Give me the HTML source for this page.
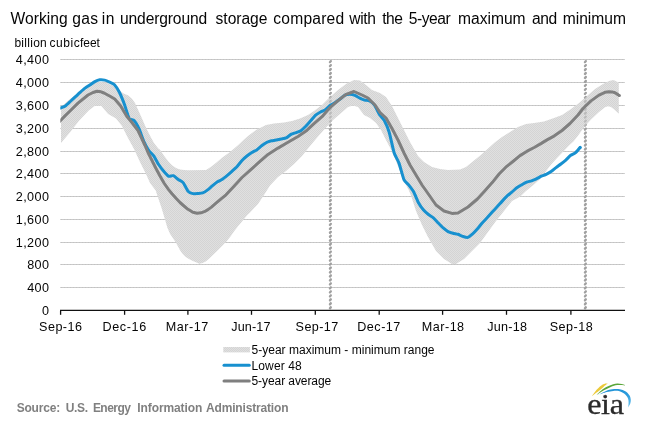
<!DOCTYPE html>
<html><head><meta charset="utf-8"><title>Working gas in underground storage</title>
<style>
html,body{margin:0;padding:0;background:#fff;}
svg{display:block;will-change:transform;font-family:"Liberation Sans",sans-serif;}
</style></head>
<body>
<svg width="651" height="422" viewBox="0 0 651 422">
<defs><pattern id="bp" width="2" height="2" patternUnits="userSpaceOnUse"><rect width="2" height="2" fill="#e0e0e0"/><rect width="1" height="1" fill="#d4d4d4" shape-rendering="crispEdges"/><rect x="1" y="1" width="1" height="1" fill="#d4d4d4" shape-rendering="crispEdges"/></pattern></defs>
<rect width="651" height="422" fill="#fff"/>
<g fill="#050505"><text x="10.60" y="24.20" font-size="15.6" letter-spacing="0.008">Working</text><text x="72.28" y="24.20" font-size="15.6" letter-spacing="0.320">gas</text><text x="101.76" y="24.20" font-size="15.6" letter-spacing="0.500">in</text><text x="120.06" y="24.20" font-size="15.6" letter-spacing="-0.136">underground</text><text x="215.59" y="24.20" font-size="15.6" letter-spacing="-0.026">storage</text><text x="273.28" y="24.20" font-size="15.6" letter-spacing="0.219">compared</text><text x="349.36" y="24.20" font-size="15.6" letter-spacing="-0.374">with</text><text x="382.14" y="24.20" font-size="15.6" letter-spacing="-0.500">the</text><text x="408.78" y="24.20" font-size="15.6" letter-spacing="-0.438">5-year</text><text x="458.06" y="24.20" font-size="15.6" letter-spacing="-0.014">maximum</text><text x="532.08" y="24.20" font-size="15.6" letter-spacing="-0.464">and</text><text x="562.66" y="24.20" font-size="15.6" letter-spacing="0.025">minimum</text></g>
<g fill="#050505"><text x="14.38" y="46.60" font-size="12" letter-spacing="0.285">billion</text><text x="49.42" y="46.60" font-size="12" letter-spacing="0.552">cubic</text><text x="80.08" y="46.60" font-size="12" letter-spacing="-0.074">feet</text></g>
<g stroke="#d2d2d2" stroke-width="1"><line x1="60.5" x2="624.8" y1="287.5" y2="287.5"/><line x1="60.5" x2="624.8" y1="264.5" y2="264.5"/><line x1="60.5" x2="624.8" y1="242.5" y2="242.5"/><line x1="60.5" x2="624.8" y1="219.5" y2="219.5"/><line x1="60.5" x2="624.8" y1="196.5" y2="196.5"/><line x1="60.5" x2="624.8" y1="173.5" y2="173.5"/><line x1="60.5" x2="624.8" y1="151.5" y2="151.5"/><line x1="60.5" x2="624.8" y1="128.5" y2="128.5"/><line x1="60.5" x2="624.8" y1="105.5" y2="105.5"/><line x1="60.5" x2="624.8" y1="82.5" y2="82.5"/><line x1="60.5" x2="624.8" y1="59.5" y2="59.5"/></g><g stroke="#c2c2c2" stroke-width="1" stroke-dasharray="2 1"><line x1="60.5" x2="624.8" y1="287.5" y2="287.5"/><line x1="60.5" x2="624.8" y1="264.5" y2="264.5"/><line x1="60.5" x2="624.8" y1="242.5" y2="242.5"/><line x1="60.5" x2="624.8" y1="219.5" y2="219.5"/><line x1="60.5" x2="624.8" y1="196.5" y2="196.5"/><line x1="60.5" x2="624.8" y1="173.5" y2="173.5"/><line x1="60.5" x2="624.8" y1="151.5" y2="151.5"/><line x1="60.5" x2="624.8" y1="128.5" y2="128.5"/><line x1="60.5" x2="624.8" y1="105.5" y2="105.5"/><line x1="60.5" x2="624.8" y1="82.5" y2="82.5"/><line x1="60.5" x2="624.8" y1="59.5" y2="59.5"/></g>
<g stroke="#a0a0a0" stroke-width="2.2" stroke-linecap="round" fill="none"><path d="M330.00 62.10l0.8 -1M330.00 66.07l0.8 -1M330.00 70.04l0.8 -1M330.00 74.01l0.8 -1M330.00 77.98l0.8 -1M330.00 81.95l0.8 -1M330.00 85.92l0.8 -1M330.00 89.89l0.8 -1M330.00 93.86l0.8 -1M330.00 97.83l0.8 -1M330.00 101.80l0.8 -1M330.00 105.77l0.8 -1M330.00 109.74l0.8 -1M330.00 113.71l0.8 -1M330.00 117.68l0.8 -1M330.00 121.65l0.8 -1M330.00 125.62l0.8 -1M330.00 129.59l0.8 -1M330.00 133.56l0.8 -1M330.00 137.53l0.8 -1M330.00 141.50l0.8 -1M330.00 145.47l0.8 -1M330.00 149.44l0.8 -1M330.00 153.41l0.8 -1M330.00 157.38l0.8 -1M330.00 161.35l0.8 -1M330.00 165.32l0.8 -1M330.00 169.29l0.8 -1M330.00 173.26l0.8 -1M330.00 177.23l0.8 -1M330.00 181.20l0.8 -1M330.00 185.17l0.8 -1M330.00 189.14l0.8 -1M330.00 193.11l0.8 -1M330.00 197.08l0.8 -1M330.00 201.05l0.8 -1M330.00 205.02l0.8 -1M330.00 208.99l0.8 -1M330.00 212.96l0.8 -1M330.00 216.93l0.8 -1M330.00 220.90l0.8 -1M330.00 224.87l0.8 -1M330.00 228.84l0.8 -1M330.00 232.81l0.8 -1M330.00 236.78l0.8 -1M330.00 240.75l0.8 -1M330.00 244.72l0.8 -1M330.00 248.69l0.8 -1M330.00 252.66l0.8 -1M330.00 256.63l0.8 -1M330.00 260.60l0.8 -1M330.00 264.57l0.8 -1M330.00 268.54l0.8 -1M330.00 272.51l0.8 -1M330.00 276.48l0.8 -1M330.00 280.45l0.8 -1M330.00 284.42l0.8 -1M330.00 288.39l0.8 -1M330.00 292.36l0.8 -1M330.00 296.33l0.8 -1M330.00 300.30l0.8 -1M330.00 304.27l0.8 -1M330.00 308.24l0.8 -1"/><path d="M585.00 62.10l0.8 -1M585.00 66.07l0.8 -1M585.00 70.04l0.8 -1M585.00 74.01l0.8 -1M585.00 77.98l0.8 -1M585.00 81.95l0.8 -1M585.00 85.92l0.8 -1M585.00 89.89l0.8 -1M585.00 93.86l0.8 -1M585.00 97.83l0.8 -1M585.00 101.80l0.8 -1M585.00 105.77l0.8 -1M585.00 109.74l0.8 -1M585.00 113.71l0.8 -1M585.00 117.68l0.8 -1M585.00 121.65l0.8 -1M585.00 125.62l0.8 -1M585.00 129.59l0.8 -1M585.00 133.56l0.8 -1M585.00 137.53l0.8 -1M585.00 141.50l0.8 -1M585.00 145.47l0.8 -1M585.00 149.44l0.8 -1M585.00 153.41l0.8 -1M585.00 157.38l0.8 -1M585.00 161.35l0.8 -1M585.00 165.32l0.8 -1M585.00 169.29l0.8 -1M585.00 173.26l0.8 -1M585.00 177.23l0.8 -1M585.00 181.20l0.8 -1M585.00 185.17l0.8 -1M585.00 189.14l0.8 -1M585.00 193.11l0.8 -1M585.00 197.08l0.8 -1M585.00 201.05l0.8 -1M585.00 205.02l0.8 -1M585.00 208.99l0.8 -1M585.00 212.96l0.8 -1M585.00 216.93l0.8 -1M585.00 220.90l0.8 -1M585.00 224.87l0.8 -1M585.00 228.84l0.8 -1M585.00 232.81l0.8 -1M585.00 236.78l0.8 -1M585.00 240.75l0.8 -1M585.00 244.72l0.8 -1M585.00 248.69l0.8 -1M585.00 252.66l0.8 -1M585.00 256.63l0.8 -1M585.00 260.60l0.8 -1M585.00 264.57l0.8 -1M585.00 268.54l0.8 -1M585.00 272.51l0.8 -1M585.00 276.48l0.8 -1M585.00 280.45l0.8 -1M585.00 284.42l0.8 -1M585.00 288.39l0.8 -1M585.00 292.36l0.8 -1M585.00 296.33l0.8 -1M585.00 300.30l0.8 -1M585.00 304.27l0.8 -1M585.00 308.24l0.8 -1"/></g>
<polygon points="61.0,107.0 70.0,99.0 78.0,93.5 88.0,86.0 95.0,82.5 101.0,82.0 107.0,83.0 114.0,86.0 120.0,91.0 124.0,93.8 128.0,95.2 132.0,98.8 135.0,103.0 138.4,110.5 142.0,118.5 145.0,125.5 148.0,131.8 150.7,137.0 154.0,143.0 158.3,148.6 160.0,149.8 164.0,155.8 168.6,161.8 172.0,165.2 176.0,167.9 180.0,169.5 184.0,170.0 188.0,170.2 206.0,169.9 210.0,167.6 214.0,164.5 217.1,161.9 222.0,157.8 230.0,152.0 238.0,145.2 243.5,140.0 248.0,136.0 256.0,130.0 266.0,125.0 274.0,123.5 284.0,122.4 292.0,121.0 300.0,118.5 308.0,115.0 314.0,111.0 322.0,105.0 330.0,97.0 338.0,90.0 346.0,84.0 354.0,80.0 360.0,80.4 366.0,85.0 372.0,90.0 380.0,93.0 386.0,97.0 392.0,106.0 398.0,118.0 404.0,130.0 410.0,142.0 418.0,156.0 424.0,162.0 432.0,167.0 440.0,169.0 448.0,170.0 460.0,169.5 466.0,167.0 473.1,161.3 480.2,155.6 487.3,149.2 494.4,142.8 498.0,140.0 502.0,137.0 510.0,132.0 518.0,127.0 526.0,124.0 534.0,123.0 544.0,121.4 554.0,118.0 562.0,115.0 571.0,109.0 579.0,103.0 587.0,96.0 595.0,89.0 603.0,84.0 609.0,81.0 613.4,80.1 618.8,82.4 618.8,113.8 614.0,109.3 611.0,107.0 607.9,106.3 605.0,107.3 599.0,112.0 591.0,119.6 588.5,122.2 583.3,128.2 577.6,136.2 573.4,141.6 569.5,145.0 563.5,151.2 556.8,158.3 550.7,165.0 545.0,172.4 539.8,179.3 532.8,185.5 525.7,191.2 520.0,196.8 512.0,201.0 504.0,211.0 496.0,221.0 488.0,232.0 480.0,243.0 472.0,251.0 464.0,259.0 456.0,264.0 452.0,264.0 444.0,259.0 436.0,251.0 428.0,237.0 422.0,225.0 416.0,211.0 411.2,196.0 408.7,190.0 402.3,178.0 398.0,166.0 392.3,152.0 386.0,140.0 381.0,130.0 376.0,123.0 370.0,118.0 364.0,115.0 358.0,107.0 353.0,105.5 348.0,107.0 340.0,114.0 333.0,120.0 326.0,127.5 318.0,136.5 310.0,146.0 302.0,156.0 294.0,164.0 286.0,171.0 278.0,177.0 270.0,185.5 264.0,195.0 258.0,204.0 250.0,212.4 247.1,215.2 244.0,218.9 241.4,222.2 238.0,226.3 234.3,230.9 231.0,235.7 227.1,240.8 223.5,244.5 220.0,248.0 216.5,251.6 212.9,255.1 209.0,258.7 205.7,261.4 202.5,263.1 199.3,263.7 196.0,262.3 192.9,260.9 189.0,259.0 185.7,256.9 182.5,253.8 180.0,250.3 178.0,246.5 175.7,242.2 172.8,238.0 170.0,233.8 167.3,227.5 165.0,219.5 161.4,207.5 158.0,197.5 155.7,190.5 150.0,183.0 146.0,174.0 140.0,162.0 134.0,149.0 128.0,138.0 122.0,126.0 116.0,118.4 108.2,114.0 101.3,106.0 95.0,105.7 88.7,110.5 78.8,121.0 70.7,131.5 61.0,142.9" fill="url(#bp)"/>
<g stroke="#a0a0a0" stroke-width="2.2" stroke-linecap="round" fill="none" opacity="0.55"><path d="M330.00 62.10l0.8 -1M330.00 66.07l0.8 -1M330.00 70.04l0.8 -1M330.00 74.01l0.8 -1M330.00 77.98l0.8 -1M330.00 81.95l0.8 -1M330.00 85.92l0.8 -1M330.00 89.89l0.8 -1M330.00 93.86l0.8 -1M330.00 97.83l0.8 -1M330.00 101.80l0.8 -1M330.00 105.77l0.8 -1M330.00 109.74l0.8 -1M330.00 113.71l0.8 -1M330.00 117.68l0.8 -1M330.00 121.65l0.8 -1M330.00 125.62l0.8 -1M330.00 129.59l0.8 -1M330.00 133.56l0.8 -1M330.00 137.53l0.8 -1M330.00 141.50l0.8 -1M330.00 145.47l0.8 -1M330.00 149.44l0.8 -1M330.00 153.41l0.8 -1M330.00 157.38l0.8 -1M330.00 161.35l0.8 -1M330.00 165.32l0.8 -1M330.00 169.29l0.8 -1M330.00 173.26l0.8 -1M330.00 177.23l0.8 -1M330.00 181.20l0.8 -1M330.00 185.17l0.8 -1M330.00 189.14l0.8 -1M330.00 193.11l0.8 -1M330.00 197.08l0.8 -1M330.00 201.05l0.8 -1M330.00 205.02l0.8 -1M330.00 208.99l0.8 -1M330.00 212.96l0.8 -1M330.00 216.93l0.8 -1M330.00 220.90l0.8 -1M330.00 224.87l0.8 -1M330.00 228.84l0.8 -1M330.00 232.81l0.8 -1M330.00 236.78l0.8 -1M330.00 240.75l0.8 -1M330.00 244.72l0.8 -1M330.00 248.69l0.8 -1M330.00 252.66l0.8 -1M330.00 256.63l0.8 -1M330.00 260.60l0.8 -1M330.00 264.57l0.8 -1M330.00 268.54l0.8 -1M330.00 272.51l0.8 -1M330.00 276.48l0.8 -1M330.00 280.45l0.8 -1M330.00 284.42l0.8 -1M330.00 288.39l0.8 -1M330.00 292.36l0.8 -1M330.00 296.33l0.8 -1M330.00 300.30l0.8 -1M330.00 304.27l0.8 -1M330.00 308.24l0.8 -1"/><path d="M585.00 62.10l0.8 -1M585.00 66.07l0.8 -1M585.00 70.04l0.8 -1M585.00 74.01l0.8 -1M585.00 77.98l0.8 -1M585.00 81.95l0.8 -1M585.00 85.92l0.8 -1M585.00 89.89l0.8 -1M585.00 93.86l0.8 -1M585.00 97.83l0.8 -1M585.00 101.80l0.8 -1M585.00 105.77l0.8 -1M585.00 109.74l0.8 -1M585.00 113.71l0.8 -1M585.00 117.68l0.8 -1M585.00 121.65l0.8 -1M585.00 125.62l0.8 -1M585.00 129.59l0.8 -1M585.00 133.56l0.8 -1M585.00 137.53l0.8 -1M585.00 141.50l0.8 -1M585.00 145.47l0.8 -1M585.00 149.44l0.8 -1M585.00 153.41l0.8 -1M585.00 157.38l0.8 -1M585.00 161.35l0.8 -1M585.00 165.32l0.8 -1M585.00 169.29l0.8 -1M585.00 173.26l0.8 -1M585.00 177.23l0.8 -1M585.00 181.20l0.8 -1M585.00 185.17l0.8 -1M585.00 189.14l0.8 -1M585.00 193.11l0.8 -1M585.00 197.08l0.8 -1M585.00 201.05l0.8 -1M585.00 205.02l0.8 -1M585.00 208.99l0.8 -1M585.00 212.96l0.8 -1M585.00 216.93l0.8 -1M585.00 220.90l0.8 -1M585.00 224.87l0.8 -1M585.00 228.84l0.8 -1M585.00 232.81l0.8 -1M585.00 236.78l0.8 -1M585.00 240.75l0.8 -1M585.00 244.72l0.8 -1M585.00 248.69l0.8 -1M585.00 252.66l0.8 -1M585.00 256.63l0.8 -1M585.00 260.60l0.8 -1M585.00 264.57l0.8 -1M585.00 268.54l0.8 -1M585.00 272.51l0.8 -1M585.00 276.48l0.8 -1M585.00 280.45l0.8 -1M585.00 284.42l0.8 -1M585.00 288.39l0.8 -1M585.00 292.36l0.8 -1M585.00 296.33l0.8 -1M585.00 300.30l0.8 -1M585.00 304.27l0.8 -1M585.00 308.24l0.8 -1"/></g>
<clipPath id="pc"><rect x="60.3" y="50" width="570" height="262"/></clipPath>
<g clip-path="url(#pc)">
<path d="M58.00 109.07C58.25 108.96 59.76 108.31 60.50 107.99C61.24 107.67 64.42 106.53 65.41 105.88C66.39 105.23 69.33 102.40 70.31 101.49C71.29 100.59 74.24 97.80 75.22 96.88C76.20 95.96 79.14 93.20 80.12 92.32C81.11 91.44 84.05 88.84 85.03 88.10C86.01 87.36 88.95 85.56 89.94 84.91C90.92 84.26 93.86 82.11 94.84 81.60C95.82 81.09 98.77 79.93 99.75 79.78C100.73 79.63 103.67 79.89 104.65 80.12C105.64 80.35 108.58 81.60 109.56 82.06C110.54 82.51 113.48 83.67 114.47 84.68C115.45 85.69 118.39 90.28 119.37 92.20C120.35 94.13 123.30 101.32 124.28 103.95C125.26 106.57 128.20 116.77 129.18 118.42C130.17 120.08 133.11 119.45 134.09 120.48C135.07 121.50 138.01 126.57 139.00 128.68C139.98 130.79 142.92 139.38 143.90 141.57C144.88 143.75 147.83 149.08 148.81 150.51C149.79 151.95 152.73 154.47 153.71 155.87C154.70 157.28 157.64 163.02 158.62 164.54C159.60 166.05 162.54 169.88 163.53 171.03C164.51 172.19 167.45 175.64 168.43 176.11C169.41 176.58 172.36 175.36 173.34 175.71C174.32 176.06 177.26 178.90 178.24 179.58C179.23 180.27 182.17 181.45 183.15 182.61C184.13 183.76 187.07 190.06 188.06 191.16C189.04 192.26 191.98 193.37 192.96 193.61C193.94 193.84 196.89 193.56 197.87 193.49C198.85 193.42 201.79 193.29 202.77 192.92C203.76 192.56 206.70 190.57 207.68 189.84C208.66 189.12 211.60 186.43 212.59 185.63C213.57 184.82 216.51 182.45 217.49 181.81C218.47 181.17 221.42 179.89 222.40 179.24C223.38 178.60 226.32 176.18 227.30 175.37C228.29 174.55 231.23 171.98 232.21 171.09C233.19 170.20 236.13 167.54 237.12 166.47C238.10 165.41 241.04 161.48 242.02 160.43C243.00 159.38 245.95 156.78 246.93 155.99C247.91 155.19 250.85 153.12 251.83 152.51C252.82 151.90 255.76 150.56 256.74 149.89C257.72 149.22 260.66 146.52 261.65 145.78C262.63 145.05 265.57 143.03 266.55 142.53C267.53 142.04 270.48 141.09 271.46 140.82C272.44 140.56 275.38 140.10 276.36 139.91C277.35 139.72 280.29 139.14 281.27 138.94C282.25 138.74 285.19 138.37 286.18 137.92C287.16 137.46 290.10 134.91 291.08 134.38C292.06 133.86 295.01 133.04 295.99 132.67C296.97 132.30 299.91 131.32 300.89 130.68C301.88 130.04 304.82 127.28 305.80 126.29C306.78 125.30 309.72 121.92 310.71 120.82C311.69 119.71 314.63 116.11 315.61 115.23C316.59 114.35 319.54 112.59 320.52 112.04C321.50 111.49 324.44 110.43 325.42 109.76C326.41 109.09 329.35 106.03 330.33 105.31C331.31 104.60 334.25 103.22 335.24 102.58C336.22 101.94 339.16 99.67 340.14 98.93C341.12 98.19 344.07 95.68 345.05 95.22C346.03 94.77 348.97 94.35 349.95 94.37C350.94 94.39 353.88 95.03 354.86 95.40C355.84 95.76 358.78 97.55 359.77 98.02C360.75 98.49 363.69 99.77 364.67 100.07C365.65 100.37 368.60 100.48 369.58 100.98C370.56 101.48 373.50 103.75 374.48 105.09C375.47 106.42 378.41 112.78 379.39 114.32C380.37 115.86 383.31 118.69 384.30 120.48C385.28 122.27 388.22 129.00 389.20 132.22C390.18 135.44 393.13 149.59 394.11 152.68C395.09 155.77 398.03 160.43 399.01 163.11C400.00 165.80 402.94 177.32 403.92 179.53C404.90 181.73 407.84 183.93 408.83 185.17C409.81 186.41 412.75 190.17 413.73 191.95C414.71 193.74 417.66 201.20 418.64 203.01C419.62 204.82 422.56 208.93 423.54 210.08C424.53 211.23 427.47 213.76 428.45 214.53C429.43 215.30 432.37 216.92 433.36 217.77C434.34 218.63 437.28 222.06 438.26 223.08C439.24 224.10 442.19 227.13 443.17 227.98C444.15 228.83 447.09 231.04 448.07 231.57C449.06 232.09 452.00 232.95 452.98 233.22C453.96 233.50 456.90 233.99 457.89 234.30C458.87 234.62 461.81 236.05 462.79 236.36C463.77 236.66 466.72 237.63 467.70 237.38C468.68 237.13 471.62 234.71 472.60 233.85C473.59 232.99 476.53 229.89 477.51 228.78C478.49 227.66 481.43 223.86 482.42 222.73C483.40 221.61 486.34 218.61 487.32 217.55C488.30 216.48 491.25 213.15 492.23 212.07C493.21 211.00 496.15 207.90 497.13 206.83C498.12 205.76 501.06 202.42 502.04 201.36C503.02 200.29 505.96 197.09 506.95 196.17C507.93 195.25 510.87 193.03 511.85 192.18C512.83 191.34 515.78 188.47 516.76 187.74C517.74 187.00 520.68 185.38 521.66 184.83C522.65 184.28 525.59 182.61 526.57 182.21C527.55 181.81 530.49 181.18 531.48 180.84C532.46 180.50 535.40 179.31 536.38 178.84C537.36 178.38 540.31 176.67 541.29 176.22C542.27 175.77 545.21 174.80 546.19 174.34C547.18 173.88 550.12 172.28 551.10 171.60C552.08 170.93 555.02 168.37 556.01 167.61C556.99 166.86 559.93 164.77 560.91 164.02C561.89 163.28 564.84 161.03 565.82 160.15C566.80 159.27 569.74 156.00 570.72 155.25C571.71 154.49 574.65 153.44 575.63 152.62C576.61 151.80 580.05 147.60 580.54 147.04" fill="none" stroke="#1790cf" stroke-width="3" stroke-linejoin="round" stroke-linecap="butt"/>
<circle cx="580.2" cy="147.2" r="1.5" fill="#1790cf"/>
<polyline points="58.0,123.3 60.5,120.6 65.0,115.9 70.0,111.0 78.0,103.1 88.0,95.0 93.0,92.5 97.0,91.3 101.0,91.8 104.0,93.0 110.5,96.5 114.7,99.0 120.7,106.0 126.6,116.0 132.3,123.0 138.0,130.5 142.0,139.0 145.0,145.5 148.0,152.5 152.0,160.5 156.0,168.5 160.0,176.0 164.0,183.0 168.6,189.6 172.0,193.8 176.0,198.3 180.0,202.5 184.0,206.0 188.0,209.3 192.9,212.3 197.1,213.3 201.0,212.8 204.3,211.7 208.0,209.6 211.4,207.1 216.0,203.2 221.4,198.6 226.0,194.8 234.0,186.2 242.0,177.5 250.0,170.4 258.0,163.2 268.0,154.4 278.0,148.1 288.0,142.2 298.0,136.5 306.0,131.1 314.0,123.7 322.0,116.7 330.0,107.6 338.0,100.7 346.0,94.3 354.0,91.5 362.0,95.0 368.0,98.0 375.0,105.0 380.0,112.5 386.0,118.0 392.0,128.5 398.0,140.0 404.0,153.0 410.0,165.0 416.0,175.0 422.0,185.0 428.0,193.5 436.0,205.0 444.0,211.0 452.0,213.4 458.0,213.0 468.0,207.0 477.4,199.0 484.5,191.2 492.2,182.6 499.3,173.8 505.8,167.2 512.9,161.5 520.0,155.6 527.1,151.2 534.2,147.5 541.3,143.4 547.0,139.9 554.0,136.1 562.0,130.5 570.0,123.5 578.0,115.0 583.0,108.5 591.0,100.9 599.0,95.1 605.0,92.3 609.0,91.8 612.0,91.9 615.0,92.8 618.0,94.6 619.4,95.6" fill="none" stroke="#7f7f7f" stroke-width="3" stroke-linejoin="round" stroke-linecap="butt"/>
<circle cx="619.4" cy="95.6" r="1.5" fill="#7f7f7f"/>
</g>
<g stroke="#111" stroke-width="1.3"><line x1="60" x2="625" y1="310.3" y2="310.3"/><line x1="60.6" x2="60.6" y1="310.5" y2="314.8"/><line x1="124.6" x2="124.6" y1="310.5" y2="314.8"/><line x1="187.9" x2="187.9" y1="310.5" y2="314.8"/><line x1="251.5" x2="251.5" y1="310.5" y2="314.8"/><line x1="315.3" x2="315.3" y1="310.5" y2="314.8"/><line x1="379.2" x2="379.2" y1="310.5" y2="314.8"/><line x1="442.6" x2="442.6" y1="310.5" y2="314.8"/><line x1="506.5" x2="506.5" y1="310.5" y2="314.8"/><line x1="570.9" x2="570.9" y1="310.5" y2="314.8"/></g>
<g fill="#050505"><text x="41.95" y="314.70" font-size="12.6">0</text><text x="27.13" y="291.80" font-size="12.6" letter-spacing="0.400">400</text><text x="27.13" y="268.80" font-size="12.6" letter-spacing="0.400">800</text><text x="15.82" y="246.80" font-size="12.6" letter-spacing="0.400">1,200</text><text x="15.82" y="223.80" font-size="12.6" letter-spacing="0.400">1,600</text><text x="15.82" y="200.80" font-size="12.6" letter-spacing="0.400">2,000</text><text x="15.82" y="177.80" font-size="12.6" letter-spacing="0.400">2,400</text><text x="15.82" y="155.80" font-size="12.6" letter-spacing="0.400">2,800</text><text x="15.82" y="132.80" font-size="12.6" letter-spacing="0.400">3,200</text><text x="15.82" y="109.80" font-size="12.6" letter-spacing="0.400">3,600</text><text x="15.82" y="86.80" font-size="12.6" letter-spacing="0.400">4,000</text><text x="15.82" y="63.80" font-size="12.6" letter-spacing="0.400">4,400</text></g>
<g fill="#050505"><text x="39.10" y="330.70" font-size="12.6" letter-spacing="0.446">Sep-16</text><text x="102.49" y="330.70" font-size="12.6" letter-spacing="0.629">Dec-16</text><text x="165.79" y="330.70" font-size="12.6" letter-spacing="0.496">Mar-17</text><text x="231.17" y="330.70" font-size="12.6" letter-spacing="0.176">Jun-17</text><text x="295.60" y="330.70" font-size="12.6" letter-spacing="0.391">Sep-17</text><text x="357.29" y="330.70" font-size="12.6" letter-spacing="0.494">Dec-17</text><text x="421.79" y="330.70" font-size="12.6" letter-spacing="0.491">Mar-18</text><text x="487.17" y="330.70" font-size="12.6" letter-spacing="0.251">Jun-18</text><text x="549.70" y="330.70" font-size="12.6" letter-spacing="0.486">Sep-18</text></g>
<rect x="223.3" y="347" width="26.6" height="5.4" fill="url(#bp)"/>
<line x1="224" x2="249.3" y1="365.2" y2="365.2" stroke="#1790cf" stroke-width="3" stroke-linecap="round"/>
<line x1="224" x2="249.3" y1="381" y2="381" stroke="#7f7f7f" stroke-width="3" stroke-linecap="round"/>
<g fill="#050505"><text x="251.52" y="354.10" font-size="12" letter-spacing="0.011">5-year maximum - minimum range</text><text x="251.54" y="369.50" font-size="12" letter-spacing="0.118">Lower 48</text><text x="251.52" y="385.00" font-size="12" letter-spacing="-0.077">5-year average</text></g>
<g fill="#808080"><text x="16.66" y="412.00" font-size="12" letter-spacing="-0.187" font-weight="bold">Source:</text><text x="65.78" y="412.00" font-size="12" letter-spacing="-0.368" font-weight="bold">U.S.</text><text x="92.88" y="412.00" font-size="12" letter-spacing="-0.522" font-weight="bold">Energy</text><text x="137.28" y="412.00" font-size="12" letter-spacing="-0.094" font-weight="bold">Information</text><text x="206.06" y="412.00" font-size="12" letter-spacing="-0.169" font-weight="bold">Administration</text></g>
<g id="logo">
<defs><linearGradient id="bg" x1="0" y1="0" x2="1" y2="1"><stop offset="0" stop-color="#1d8fd3"/><stop offset="0.6" stop-color="#2a9bdc"/><stop offset="1" stop-color="#6cc3ee"/></linearGradient></defs><path d="M591.90 396.10C592.77 394.97 595.30 391.23 597.10 389.30C598.90 387.37 600.95 385.52 602.70 384.50C604.45 383.48 606.78 383.42 607.60 383.20L607.60 383.60C606.92 384.15 604.98 385.68 603.50 386.90C602.02 388.12 600.63 389.37 598.70 390.90C596.77 392.43 593.03 395.23 591.90 396.10Z" fill="#ecca3a"/><path d="M596.30 395.30C597.37 394.30 600.55 390.90 602.70 389.30C604.85 387.70 606.77 386.65 609.20 385.70C611.63 384.75 614.68 383.73 617.30 383.60C619.92 383.47 623.63 384.68 624.90 384.90L624.90 385.40C623.63 385.35 619.65 384.85 617.30 385.10C614.95 385.35 612.95 386.07 610.80 386.90C608.65 387.73 606.82 388.70 604.40 390.10C601.98 391.50 597.65 394.43 596.30 395.30Z" fill="#5aa63a"/><path d="M598.30 394.90C599.58 394.23 603.65 391.83 606.00 390.90C608.35 389.97 610.12 389.57 612.40 389.30C614.68 389.03 617.55 388.97 619.70 389.30C621.85 389.63 623.68 390.30 625.30 391.30C626.92 392.30 628.48 393.88 629.40 395.30C630.32 396.72 630.67 398.38 630.80 399.80C630.93 401.22 630.65 402.53 630.20 403.80C629.75 405.07 628.45 406.80 628.10 407.40L628.10 407.40C628.17 406.93 628.43 405.73 628.50 404.60C628.57 403.47 628.70 401.87 628.50 400.60C628.30 399.33 628.10 398.22 627.30 397.00C626.50 395.78 625.10 394.28 623.70 393.30C622.30 392.32 620.65 391.50 618.90 391.10C617.15 390.70 615.22 390.73 613.20 390.90C611.18 391.07 609.28 391.43 606.80 392.10C604.32 392.77 599.72 394.43 598.30 394.90Z" fill="url(#bg)"/>
<g transform="translate(587.8,413.8) scale(1.085,1)"><text x="-0.6" y="0" font-size="29.6" letter-spacing="-0.3" font-family="'Liberation Serif',serif" fill="#2b2b2b" stroke="#2b2b2b" stroke-width="0.35">eia</text></g>
</g>
</svg>
</body></html>
